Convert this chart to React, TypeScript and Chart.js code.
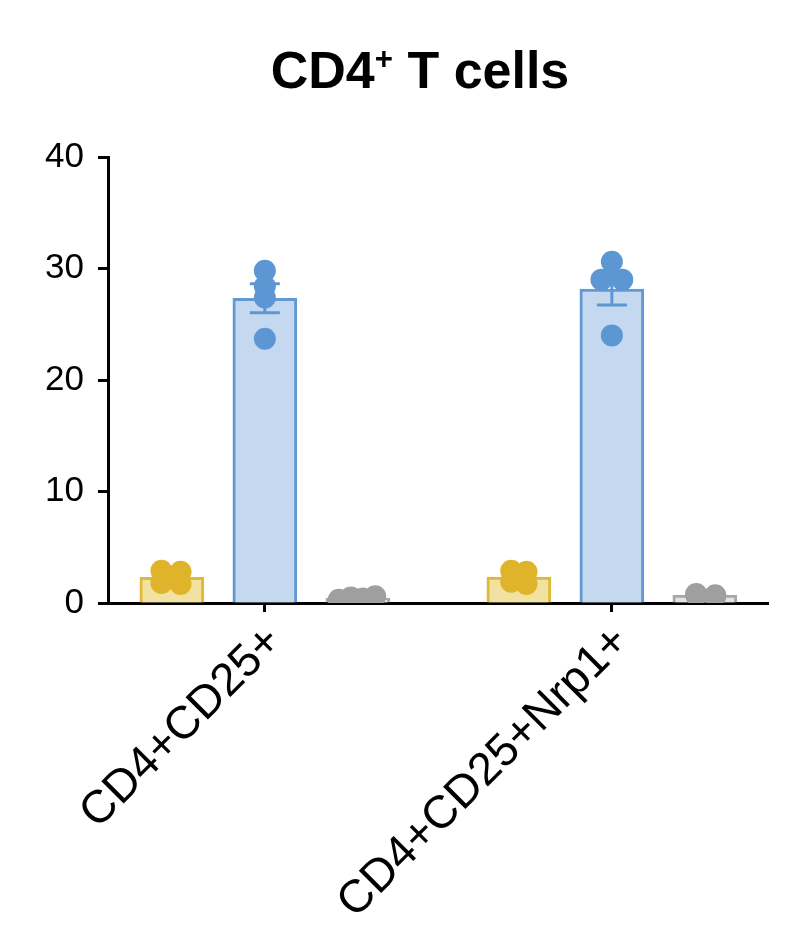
import React, { useEffect, useRef } from "react";
import { Chart, registerables } from "chart.js";

Chart.register(...registerables);

// ---- data ----
const categories = ["CD4+CD25+", "CD4+CD25+Nrp1+"];
const yTicks = [0, 10, 20, 30, 40];

const yellowValues = [
  [2.9, 2.8, 1.8, 1.7],
  [2.9, 2.8, 1.9, 1.7],
];
const blueValues = [
  [29.8, 28.4, 27.4, 23.7],
  [30.6, 29.0, 29.0, 24.0],
];
const greyValues = [
  [0.3, 0.5, 0.6, 0.4],
  [0.8, 0.6, 0.7, 0.7],
];

// horizontal jitter of individual points (x data units)
const yellowJitter = [
  [-0.03, 0.025, -0.03, 0.025],
  [-0.022, 0.022, -0.022, 0.022],
];
const blueJitter = [
  [0, 0, 0, 0],
  [0, -0.03, 0.03, 0],
];
const greyJitter = [
  [-0.055, -0.02, 0.05, 0.015],
  [-0.025, 0.03, -0.025, 0.03],
];

// ---- styles ----
const FONT = "'Liberation Sans', Arial, Helvetica, sans-serif";
const seriesOffsets = [-0.268, 0, 0.268];
const seriesValues = [yellowValues, blueValues, greyValues];
const seriesJitter = [yellowJitter, blueJitter, greyJitter];
const fills = ["#F2E2A2", "#C4D9EF", "#E4E4E4"];
const borders = ["#E2B936", "#6399D3", "#A8A8A8"];
const dots = ["#E0B42A", "#5D97D3", "#9F9F9F"];

const mean = (a: number[]) => a.reduce((s, v) => s + v, 0) / a.length;
const sem = (a: number[]) => {
  const m = mean(a);
  const v = a.reduce((s, x) => s + (x - m) * (x - m), 0) / (a.length - 1);
  return Math.sqrt(v) / Math.sqrt(a.length);
};

const errorBarPlugin = {
  id: "errorBars",
  afterDatasetsDraw(chart: any) {
    const { ctx, scales } = chart;
    const xs = scales.x;
    const ys = scales.y;
    ctx.save();
    seriesValues.forEach((vals, s) => {
      vals.forEach((pts, i) => {
        const m = mean(pts);
        const e = sem(pts);
        const px = xs.getPixelForValue(i + 1 + seriesOffsets[s]);
        const yTop = ys.getPixelForValue(m + e);
        const yBot = ys.getPixelForValue(m - e);
        ctx.strokeStyle = dots[s];
        ctx.lineWidth = 3;
        ctx.beginPath();
        ctx.moveTo(px, yTop);
        ctx.lineTo(px, yBot);
        ctx.moveTo(px - 15, yTop);
        ctx.lineTo(px + 15, yTop);
        ctx.moveTo(px - 15, yBot);
        ctx.lineTo(px + 15, yBot);
        ctx.stroke();
      });
    });
    ctx.restore();
  },
};

export default function App() {
  const ref = useRef<HTMLCanvasElement | null>(null);

  useEffect(() => {
    if (!ref.current) return;

    const barSets = seriesValues.map((vals, s) => ({
      type: "bar" as const,
      order: 2,
      grouped: false,
      data: vals.map((pts, i) => ({ x: i + 1 + seriesOffsets[s], y: mean(pts) })),
      backgroundColor: fills[s],
      borderColor: borders[s],
      borderWidth: 3,
      barThickness: 64,
    }));

    const dotSets = seriesValues.map((vals, s) => ({
      type: "scatter" as const,
      order: 1,
      data: vals.flatMap((pts, i) =>
        pts.map((v, k) => ({ x: i + 1 + seriesOffsets[s] + seriesJitter[s][i][k], y: v }))
      ),
      backgroundColor: dots[s],
      borderColor: dots[s],
      borderWidth: 0,
      pointRadius: 11,
      pointHoverRadius: 11,
    }));

    const chart = new Chart(ref.current, {
      type: "bar",
      data: { datasets: [...barSets, ...dotSets] as any },
      plugins: [errorBarPlugin],
      options: {
        animation: false,
        responsive: false,
        events: [],
        layout: { padding: { left: 0, right: 28, top: 157, bottom: 0 } },
        plugins: {
          legend: { display: false },
          tooltip: { enabled: false },
          title: { display: false },
        },
        scales: {
          x: {
            type: "linear",
            offset: false,
            min: 0.548,
            max: 2.45,
            afterBuildTicks: (scale: any) => {
              scale.ticks = categories.map((_, i) => ({ value: i + 1 }));
            },
            afterFit: (scale: any) => {
              scale.height = 336;
            },
            ticks: {
              autoSkip: false,
              minRotation: 45,
              maxRotation: 45,
              padding: 3,
              labelOffset: 10,
              color: "#000",
              font: { family: FONT, size: 46 },
              callback: (_v: any, i: number) => categories[i],
            },
            grid: {
              display: true,
              offset: false,
              drawOnChartArea: false,
              drawTicks: true,
              tickLength: 9,
              tickWidth: 3,
              tickColor: "#000",
            },
            border: { display: true, width: 3, color: "#000" },
          },
          y: {
            type: "linear",
            min: 0,
            max: 40,
            afterBuildTicks: (scale: any) => {
              scale.ticks = yTicks.map((v) => ({ value: v }));
            },
            afterFit: (scale: any) => {
              scale.width = 108;
            },
            ticks: {
              padding: 14,
              color: "#000",
              font: { family: FONT, size: 35 },
              callback: (v: any) => String(v),
            },
            grid: {
              display: true,
              drawOnChartArea: false,
              drawTicks: true,
              tickLength: 10,
              tickWidth: 3,
              tickColor: "#000",
            },
            border: { display: true, width: 3, color: "#000" },
          },
        },
      } as any,
    });

    return () => chart.destroy();
  }, []);

  return (
    <div style={{ position: "absolute", left: 0, top: 0, width: 796, height: 939, background: "#fff" }}>
      <div
        style={{
          position: "absolute",
          left: 420,
          top: 44,
          transform: "translateX(-50%)",
          whiteSpace: "nowrap",
          fontFamily: FONT,
          fontWeight: "bold",
          fontSize: 52,
          lineHeight: 1,
          color: "#000",
        }}
      >
        CD4<sup style={{ fontSize: "0.6em", lineHeight: 0, verticalAlign: "0.6em" }}>+</sup> T cells
      </div>
      <canvas ref={ref} width={796} height={939} style={{ width: 796, height: 939, display: "block" }} />
    </div>
  );
}
